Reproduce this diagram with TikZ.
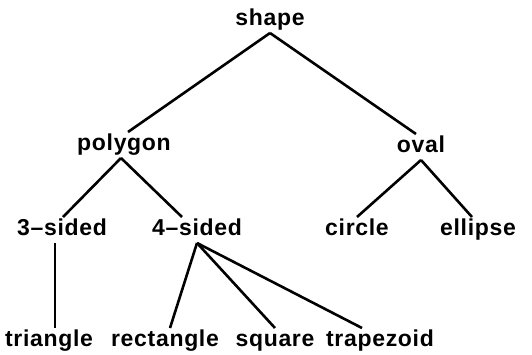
\documentclass[tikz,border=0pt]{standalone}
\usepackage{fontspec}
\setmainfont{Liberation Sans}[LetterSpace=3]
\usepackage{tikz}

\begin{document}
\begin{tikzpicture}[x=1pt, y=-1pt, line width=2.6pt,
    word/.style={anchor=base, inner sep=4pt, outer sep=0pt,
      text height=14pt, text depth=4pt, font=\fontsize{23}{27}\selectfont\bfseries}]
        \useasboundingbox (0,0) rectangle (532,354);
        % Top level
        \node[word] (shape) at (270,25) {shape};
        \node[word] (polygon) at (124,150) {polygon};
        \node[word] (oval) at (421,152) {oval};
        % Middle level
        \node[word] (three) at (62,235) {3--sided};
        \node[word] (four) at (197,235) {4--sided};
        \node[word] (circle) at (357,235) {circle};
        \node[word] (ellipse) at (478,235) {ellipse};
        % Bottom level
        \node[word] (triangle) at (49,346) {triangle};
        \node[word] (rect) at (165,346) {rectangle};
        \node[word] (square) at (275,346) {square};
        \node[word] (trap) at (380,346) {trapezoid};
        % Branches
        \draw (shape.south) -- ([xshift=4pt]polygon.north);
        \draw (shape.south) -- ([xshift=-5pt]oval.north);
        \draw ([xshift=-3pt]polygon.south) -- ([xshift=1pt]three.north);
        \draw ([xshift=-3pt]polygon.south) -- ([xshift=-15pt]four.north);
        \draw (oval.south) -- (circle.north);
        \draw (oval.south) -- ([xshift=-6pt]ellipse.north);
        \draw ([xshift=-7pt]three.south) -- ([xshift=6pt]triangle.north);
        \draw (four.south) -- ([xshift=5pt]rect.north);
        \draw (four.south) -- (square.north);
        \draw (four.south) -- ([xshift=-18pt]trap.north);
    \end{tikzpicture}
\end{document}
